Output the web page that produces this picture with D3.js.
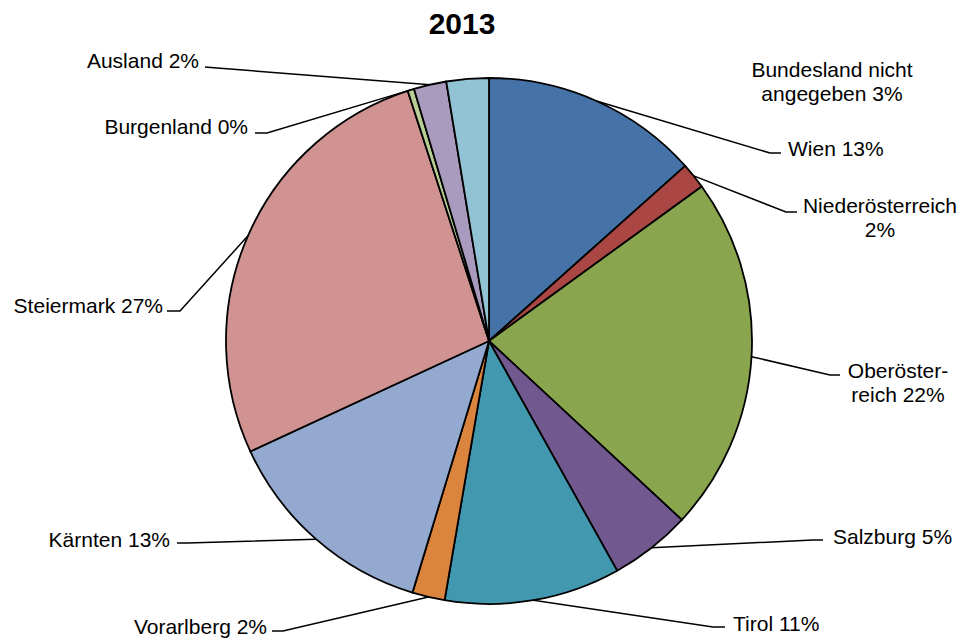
<!DOCTYPE html>
<html>
<head>
<meta charset="utf-8">
<script src="https://cdn.jsdelivr.net/npm/d3@7"></script>
<style>
  html, body { margin: 0; padding: 0; background: #ffffff; }
  svg { display: block; }
  text { font-family: "Liberation Sans", Arial, sans-serif; fill: #000; }
</style>
</head>
<body>
<svg id="chart" width="968" height="641"></svg>
<script>
// ---- Data ----
const title = "2013";
const categories = [
  "Wien", "Niederösterreich", "Oberösterreich", "Salzburg", "Tirol",
  "Vorarlberg", "Kärnten", "Steiermark", "Burgenland", "Ausland",
  "Bundesland nicht angegeben"
];
const values = [13.4, 1.6, 21.9, 5.0, 10.8, 2.0, 13.4, 26.9, 0.4, 2.0, 2.6];
// label line breaks as shown in the chart ("|" = line break, "%" value appended)
const labelTemplates = [
  "Wien {p}%", "Niederösterreich|{p}%", "Oberöster-|reich {p}%", "Salzburg {p}%",
  "Tirol {p}%", "Vorarlberg {p}%", "Kärnten {p}%", "Steiermark {p}%",
  "Burgenland {p}%", "Ausland {p}%", "Bundesland nicht|angegeben {p}%"
];
const colors = [
  "#4572A7", "#AA4643", "#89A54E", "#71588F", "#4198AF",
  "#DB843D", "#93A9CF", "#D19392", "#B9CD96", "#A99BBD", "#92C3D4"
];

// ---- Layout (label placement) ----
const cx = 489, cy = 341, R = 263;
// elbow: where slanted leader meets horizontal tail; tail: end of horizontal tail
// tx/ty: text anchor and first baseline; anchor: text-anchor
const labelLayout = [
  {elbow:[770,153], tail:[781,153], tx:788, ty:156, anchor:"start"},
  {elbow:[786,212], tail:[797,212], tx:880, ty:213, anchor:"middle"},
  {elbow:[830,375], tail:[840,375], tx:898, ty:378, anchor:"middle"},
  {elbow:[813,540], tail:[823,540], tx:833, ty:544, anchor:"start"},
  {elbow:[713,627], tail:[725,627], tx:733, ty:631, anchor:"start"},
  {elbow:[283,631], tail:[272,631], tx:267, ty:634, anchor:"end"},
  {elbow:[187,543], tail:[177,543], tx:170, ty:547, anchor:"end"},
  {elbow:[180,311], tail:[167,311], tx:163, ty:313, anchor:"end"},
  {elbow:[267,133], tail:[255,133], tx:248, ty:134, anchor:"end"},
  {elbow:[217,68],  tail:[205,67],  tx:199, ty:68,  anchor:"end"},
  {elbow:null, tail:null, tx:832, ty:77, anchor:"middle"}
];
const lineHeight = 24;

const svg = d3.select("#chart");

svg.append("text")
  .attr("x", 462).attr("y", 34)
  .attr("text-anchor", "middle")
  .style("font-size", "30px").style("font-weight", "bold")
  .text(title);

const data = categories.map((c, i) => ({name: c, value: values[i], i}));
const pie = d3.pie().sort(null).value(d => d.value);
const arcs = pie(data);
const arc = d3.arc().innerRadius(0).outerRadius(R);

const g = svg.append("g").attr("transform", `translate(${cx},${cy})`);
g.selectAll("path.slice")
  .data(arcs)
  .join("path")
  .attr("class", "slice")
  .attr("d", arc)
  .attr("fill", d => colors[d.data.i])
  .attr("stroke", "#000")
  .attr("stroke-width", 1.8)
  .attr("stroke-linejoin", "round");

// leader lines
const leaders = svg.append("g");
arcs.forEach(a => {
  const L = labelLayout[a.data.i];
  if (!L.elbow) return;
  const m = (a.startAngle + a.endAngle) / 2;
  const px = cx + R * Math.sin(m), py = cy - R * Math.cos(m);
  leaders.append("path")
    .attr("d", d3.line()([[px, py], L.elbow, L.tail]))
    .attr("fill", "none")
    .attr("stroke", "#000")
    .attr("stroke-width", 1.5);
});

// labels
const labels = svg.append("g");
arcs.forEach(a => {
  const i = a.data.i;
  const L = labelLayout[i];
  const txt = labelTemplates[i].replace("{p}", Math.round(values[i]));
  const t = labels.append("text")
    .attr("text-anchor", L.anchor)
    .style("font-size", "21px");
  txt.split("|").forEach((line, k) => {
    t.append("tspan").attr("x", L.tx).attr("y", L.ty + k * lineHeight).text(line);
  });
});
</script>
</body>
</html>
